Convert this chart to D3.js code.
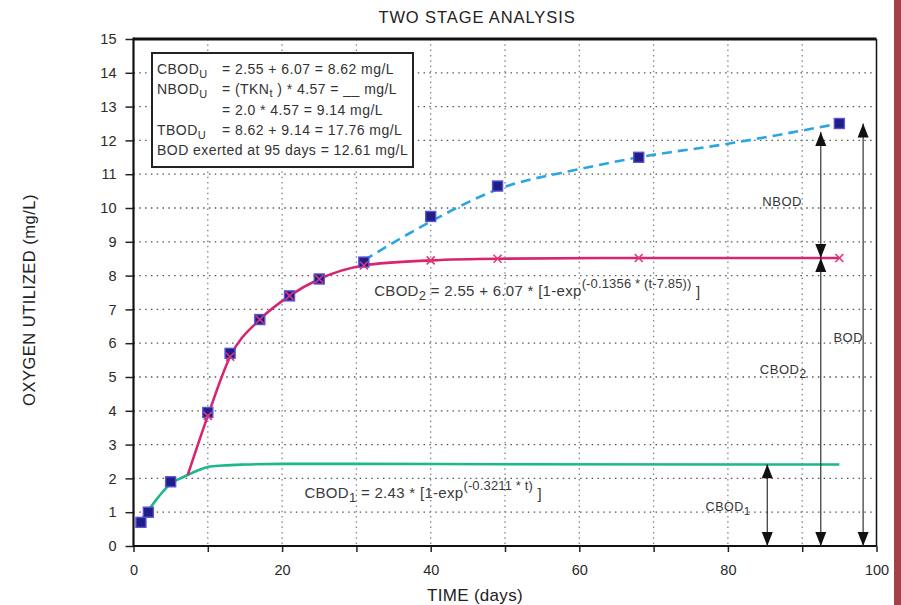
<!DOCTYPE html>
<html><head><meta charset="utf-8">
<script src="https://cdn.jsdelivr.net/npm/d3@7"></script>
<style>
body{margin:0;background:#fff;}
svg{display:block;font-family:"Liberation Sans",Arial,Helvetica,sans-serif;}
</style>
</head><body>
<svg id="chart" width="901" height="605"></svg>
<script>
// ---- data ----
const observedDays = [1, 2, 5, 10, 13, 17, 21, 25, 31, 40, 49, 68, 95];
const observedBOD  = [0.7, 1.0, 1.9, 3.95, 5.7, 6.7, 7.4, 7.9, 8.4, 9.75, 10.65, 11.5, 12.5];

const cbod1Days   = [0.6, 1, 2, 3, 4, 5, 6, 7.3, 8.5, 10, 12, 15, 20, 30, 50, 95];
const cbod1Values = [0.62, 0.75, 1.05, 1.35, 1.62, 1.85, 1.97, 2.1, 2.22, 2.34, 2.38, 2.41, 2.43, 2.43, 2.42, 2.41];

const cbod2Days   = [7.3, 10, 13, 17, 21, 25, 31, 40, 49, 68, 95];
const cbod2Values = [2.1, 3.85, 5.6, 6.7, 7.4, 7.9, 8.3, 8.45, 8.5, 8.52, 8.52];

const nbodDays   = [31, 40, 49, 60, 68, 80, 95];
const nbodValues = [8.45, 9.6, 10.55, 11.15, 11.5, 11.9, 12.5];

const xTickValues = [0, 10, 20, 30, 40, 50, 60, 70, 80, 90, 100];
const xTickLabels = ["0", "", "20", "", "40", "", "60", "", "80", "", "100"];
const yTickValues = [0, 1, 2, 3, 4, 5, 6, 7, 8, 9, 10, 11, 12, 13, 14, 15];

const boxLines = [
  ["CBOD", "U", "= 2.55 + 6.07 = 8.62 mg/L"],
  ["NBOD", "U", "= (TKN", "t", " ) * 4.57 = __ mg/L"],
  ["", "", "= 2.0 * 4.57 = 9.14 mg/L"],
  ["TBOD", "U", "= 8.62 + 9.14 = 17.76 mg/L"],
  ["BOD exerted at 95 days = 12.61 mg/L"]
];

// annotation arrows (day, from value, to value)
const cbod1Arrow = {day: 85.3, lo: 0, hi: 2.42};
const cbod2Arrow = {day: 92.5, lo: 0, hi: 8.52};
const nbodArrow  = {day: 92.5, lo: 8.52, hi: 12.25};
const bodArrow   = {day: 98.2, lo: 0, hi: 12.5};

// ---- layout ----
const svg = d3.select("#chart");
const L = 133.5, R = 876.5, T = 39, B = 546;
const x = d3.scaleLinear().domain([0, 100]).range([L, R]);
const y = d3.scaleLinear().domain([0, 15]).range([B, T]);

// red stripe on the right edge
svg.append("rect").attr("x", 894).attr("y", 0).attr("width", 7).attr("height", 605).attr("fill", "#a1414a");

// grid
const grid = svg.append("g");
grid.selectAll("line.h").data(yTickValues.filter(v => v > 0 && v < 15)).join("line")
  .attr("x1", L).attr("x2", R).attr("y1", d => y(d)).attr("y2", d => y(d))
  .attr("stroke", "#555").attr("stroke-width", 1.3).attr("stroke-dasharray", "1.5,4.3");
grid.selectAll("line.v").data(xTickValues.filter(v => v > 0 && v < 100)).join("line")
  .attr("y1", T).attr("y2", B).attr("x1", d => x(d)).attr("x2", d => x(d))
  .attr("stroke", "#7b8797").attr("stroke-width", 1.3).attr("stroke-dasharray", "1.5,3.8");

// axes
const fmtX = d => xTickLabels[xTickValues.indexOf(d)];
const xAxis = svg.append("g").attr("transform", `translate(0,${B})`)
  .call(d3.axisBottom(x).tickValues(xTickValues).tickFormat(fmtX).tickSize(6).tickPadding(13));
const yAxis = svg.append("g").attr("transform", `translate(${L},0)`)
  .call(d3.axisLeft(y).tickValues(yTickValues).tickFormat(d3.format("d")).tickSize(8).tickPadding(9));
[xAxis, yAxis].forEach(a => {
  a.select(".domain").remove();
  a.selectAll(".tick line").attr("stroke", "#222").attr("stroke-width", 1.5);
  a.selectAll(".tick text").attr("font-size", 14.5).attr("fill", "#2a2a2a")
    .attr("font-family", "'Liberation Sans',Arial,sans-serif");
});

// frame
svg.append("line").attr("x1", L).attr("x2", R).attr("y1", T).attr("y2", T).attr("stroke", "#111").attr("stroke-width", 3);
svg.append("line").attr("x1", L).attr("x2", R).attr("y1", B).attr("y2", B).attr("stroke", "#111").attr("stroke-width", 2);
svg.append("line").attr("x1", L).attr("x2", L).attr("y1", T - 1.5).attr("y2", B + 1).attr("stroke", "#111").attr("stroke-width", 2.2);
svg.append("line").attr("x1", R).attr("x2", R).attr("y1", T).attr("y2", B).attr("stroke", "#111").attr("stroke-width", 1.5);

// curves
const line = d3.line().x(d => x(d[0])).y(d => y(d[1])).curve(d3.curveMonotoneX);
svg.append("path").datum(d3.zip(cbod1Days, cbod1Values)).attr("d", line)
  .attr("fill", "none").attr("stroke", "#1cb78b").attr("stroke-width", 2.6);
svg.append("path").datum(d3.zip(cbod2Days, cbod2Values)).attr("d", line)
  .attr("fill", "none").attr("stroke", "#d8256f").attr("stroke-width", 2.6);
svg.append("path").datum(d3.zip(nbodDays, nbodValues)).attr("d", line)
  .attr("fill", "none").attr("stroke", "#2aa6e2").attr("stroke-width", 2.6).attr("stroke-dasharray", "10,6");

// observed squares
svg.selectAll("rect.obs").data(d3.zip(observedDays, observedBOD)).join("rect")
  .attr("x", d => x(d[0]) - 5).attr("y", d => y(d[1]) - 5).attr("width", 10).attr("height", 10)
  .attr("fill", "#1d1f86").attr("stroke", "#5d4fd6").attr("stroke-width", 1.4);

// x markers on CBOD2 curve
const xm = svg.append("g");
d3.zip(cbod2Days, cbod2Values).slice(1).forEach(d => {
  const cx = x(d[0]), cy = y(d[1]), s = 4;
  xm.append("path").attr("d", `M${cx - s},${cy - s}L${cx + s},${cy + s}M${cx - s},${cy + s}L${cx + s},${cy - s}`)
    .attr("stroke", "#e0367a").attr("stroke-width", 1.6);
});

// annotation arrows
function arrowHead(px, py, dir) { // dir: -1 up, +1 down; (px,py) = tip
  const w = 5.5, h = 14;
  svg.append("path").attr("d", `M${px},${py}L${px - w},${py - dir * h}L${px + w},${py - dir * h}Z`)
    .attr("fill", "#111");
}
function arrow(a) {
  svg.append("line").attr("x1", x(a.day)).attr("x2", x(a.day)).attr("y1", y(a.lo)).attr("y2", y(a.hi))
    .attr("stroke", "#333").attr("stroke-width", 1.2);
  arrowHead(x(a.day), y(a.hi), -1);
  arrowHead(x(a.day), y(a.lo), 1);
}
arrow(cbod1Arrow); arrow(cbod2Arrow); arrow(nbodArrow); arrow(bodArrow);

// annotation labels
const lab = (tx, ty, main, sub, size) => {
  const t = svg.append("text").attr("x", tx).attr("y", ty).attr("font-size", size).attr("fill", "#333")
    .attr("letter-spacing", 0.5);
  t.append("tspan").text(main);
  if (sub) t.append("tspan").attr("dy", 4).attr("font-size", size - 1).text(sub);
  return t;
};
lab(x(87.3), y(10.05), "NBOD", null, 13).attr("text-anchor", "middle");
lab(x(96.2), y(6.05), "BOD", null, 13).attr("text-anchor", "middle");
lab(x(84.3), y(5.1), "CBOD", "2", 13);
lab(x(77), y(1.05), "CBOD", "1", 12.5);

// formula labels
function formula(tx, ty, name, sub, body, expo) {
  const t = svg.append("text").attr("x", tx).attr("y", ty).attr("font-size", 15).attr("fill", "#3a3a3a")
    .attr("letter-spacing", 0.3);
  t.append("tspan").text(name);
  t.append("tspan").attr("dy", 4).attr("font-size", 13).text(sub);
  t.append("tspan").attr("dy", -4).text(" " + body);
  t.append("tspan").attr("dy", -8).attr("font-size", 13).attr("letter-spacing", 0.15).text(expo);
  t.append("tspan").attr("dy", 9).text(" ]");
}
formula(x(32.4), y(7.4), "CBOD", "2", "= 2.55 + 6.07 * [1-exp", "(-0.1356 * (t-7.85))");
formula(x(23.0), y(1.42), "CBOD", "1", "= 2.43 * [1-exp", "(-0.3211 * t)");

// info box
svg.append("rect").attr("x", 152).attr("y", 53).attr("width", 261).attr("height", 114)
  .attr("fill", "#fff").attr("stroke", "#222").attr("stroke-width", 2);
const boxFont = 14, boxLS = 0.45;
boxLines.forEach((ln, i) => {
  const by = 74 + i * 20.3;
  if (ln.length === 1) {
    svg.append("text").attr("x", 157).attr("y", by).attr("font-size", boxFont).attr("letter-spacing", boxLS)
      .attr("fill", "#333").text(ln[0]);
    return;
  }
  if (ln[0]) {
    const t = svg.append("text").attr("x", 157).attr("y", by).attr("font-size", boxFont).attr("letter-spacing", boxLS)
      .attr("fill", "#333");
    t.append("tspan").text(ln[0]);
    t.append("tspan").attr("dy", 4).attr("font-size", 11).text(ln[1]);
  }
  const t2 = svg.append("text").attr("x", 222).attr("y", by).attr("font-size", boxFont).attr("letter-spacing", boxLS)
    .attr("fill", "#333");
  t2.append("tspan").text(ln[2]);
  if (ln.length > 3) {
    t2.append("tspan").attr("dy", 3).attr("font-size", 11).text(ln[3]);
    t2.append("tspan").attr("dy", -3).text(ln[4]);
  }
});

// titles
svg.append("text").attr("x", 477).attr("y", 23).attr("text-anchor", "middle").attr("font-size", 16.5)
  .attr("letter-spacing", 0.9).attr("fill", "#222").text("TWO STAGE ANALYSIS");
svg.append("text").attr("x", 475).attr("y", 601).attr("text-anchor", "middle").attr("font-size", 17)
  .attr("letter-spacing", 0.3).attr("fill", "#222").text("TIME (days)");
svg.append("text").attr("transform", "translate(35,300) rotate(-90)").attr("text-anchor", "middle")
  .attr("font-size", 16.5).attr("letter-spacing", 0.5).attr("fill", "#222").text("OXYGEN UTILIZED  (mg/L)");
</script>
</body></html>
